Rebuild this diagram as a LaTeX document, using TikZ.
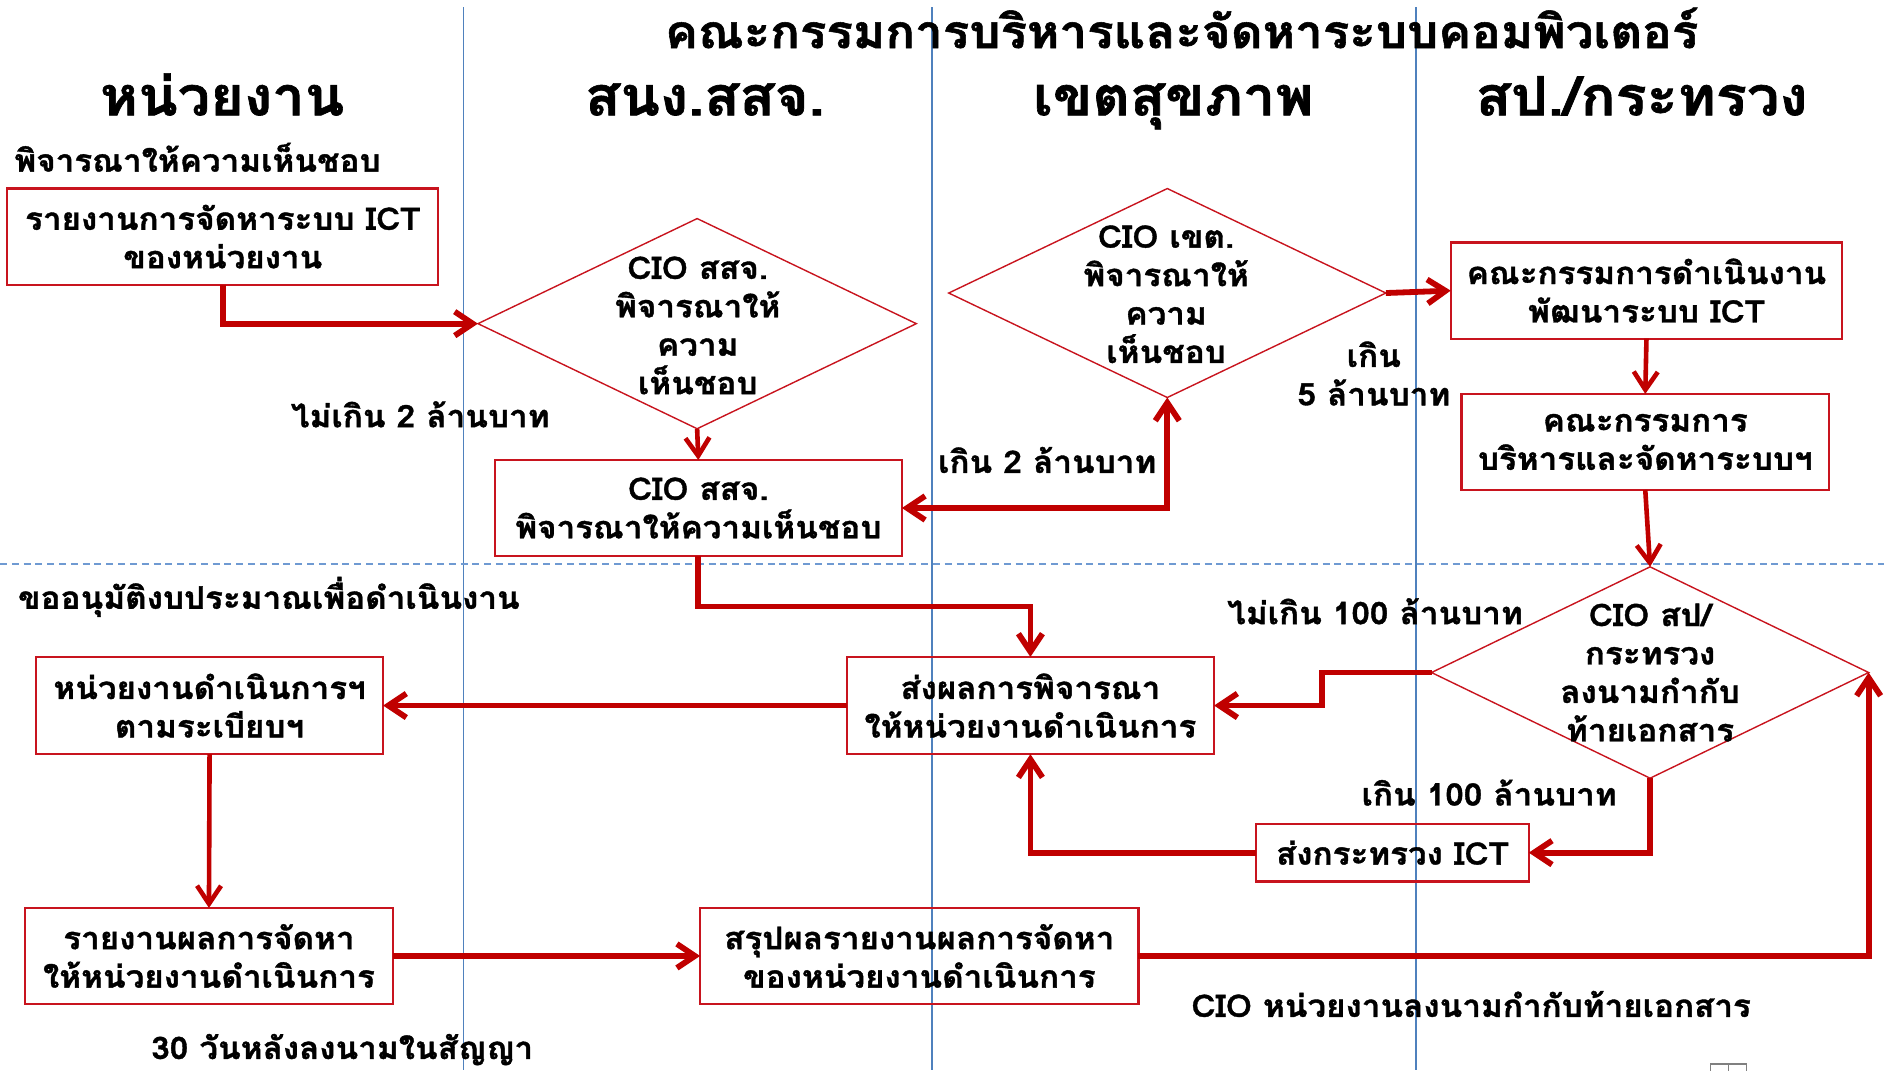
\documentclass[tikz,border=0pt]{standalone}
\usepackage{fontspec}
\newfontfamily\thai[Script=Thai,FakeStretch=1.07,BoldFeatures={FakeBold=1.2}]{Loma}
\usetikzlibrary{arrows.meta,shapes.geometric}
\definecolor{dred}{HTML}{C00000}
\definecolor{bred}{HTML}{C8141E}
\definecolor{lane}{HTML}{4F81BD}
\definecolor{dash}{HTML}{6F9AD2}
\begin{document}
\begin{tikzpicture}[x=0.6pt,y=-0.6pt,
  every node/.style={inner sep=0pt,outer sep=0pt},
  txt/.style={font=\thai\bfseries\fontsize{15.5}{19.2}\selectfont,align=center},
  head/.style={font=\thai\bfseries\fontsize{27}{30}\selectfont,anchor=base},
  ttl/.style={font=\thai\bfseries\fontsize{23}{26}\selectfont,anchor=base},
  boxn/.style 2 args={draw=bred,line width=1.1pt,rectangle,minimum width={#1*0.6pt},minimum height={#2*0.6pt}},
  dia/.style 2 args={draw=bred,line width=0.7pt,diamond,minimum width={#1*0.6pt},minimum height={#2*0.6pt}},
  thk/.style={draw=dred,line width=2.9pt,-{Straight Barb[length=9pt,width=12pt]}},
  med/.style={draw=dred,line width=2.3pt,-{Straight Barb[length=9pt,width=12pt]}},
  lanel/.style={draw=lane,line width=0.7pt},
  sep/.style={draw=dash,line width=1pt,dash pattern=on 3.5pt off 2.4pt}
]
\useasboundingbox (0,0) rectangle (1568.8,891);
% lanes
\coordinate (l1t) at (386,6); \coordinate (l1b) at (386,891);
\coordinate (l2t) at (776,6); \coordinate (l2b) at (776,891);
\coordinate (l3t) at (1179,6); \coordinate (l3b) at (1179,891);
\coordinate (sl) at (0,470); \coordinate (sr) at (1568.8,470);
\draw[lanel] (l1t) -- (l1b);
\draw[lanel] (l2t) -- (l2b);
\draw[lanel] (l3t) -- (l3b);
\draw[sep] (sl) -- (sr);
% headings
\node[ttl] (title) at (984,40) {คณะกรรมการบริหารและจัดหาระบบคอมพิวเตอร์};
\node[head] (h1) at (185,96) {หน่วยงาน};
\node[head] (h2) at (587,96) {สนง.สสจ.};
\node[head] (h3) at (977,96) {เขตสุขภาพ};
\node[head] (h4) at (1367,96) {สป./กระทรวง};
% boxes
\node[boxn={359}{80},txt] (b1) at (185.5,197) {รายงานการจัดหาระบบ ICT\\ของหน่วยงาน};
\node[boxn={339}{80},txt] (b2) at (581.5,423) {CIO สสจ.\\พิจารณาให้ความเห็นชอบ};
\node[boxn={326}{80},txt] (b3) at (1371,242) {คณะกรรมการดำเนินงาน\\พัฒนาระบบ ICT};
\node[boxn={306}{80},txt] (b4) at (1370,368) {คณะกรรมการ\\บริหารและจัดหาระบบฯ};
\node[boxn={306}{81},txt] (b5) at (858,587.5) {ส่งผลการพิจารณา\\ให้หน่วยงานดำเนินการ};
\node[boxn={289}{81},txt] (b6) at (174.5,587.5) {หน่วยงานดำเนินการฯ\\ตามระเบียบฯ};
\node[boxn={306}{80},txt] (b7) at (174,796) {รายงานผลการจัดหา\\ให้หน่วยงานดำเนินการ};
\node[boxn={365}{80},txt] (b8) at (765.5,796) {สรุปผลรายงานผลการจัดหา\\ของหน่วยงานดำเนินการ};
\node[boxn={227}{48},txt] (b9) at (1159.5,710) {ส่งกระทรวง ICT};
% diamonds
\node[dia={365}{175}] (d1) at (580.5,269.5) {};
\node[txt] (d1t) at (581,271) {CIO สสจ.\\พิจารณาให้\\ความ\\เห็นชอบ};
\node[dia={364}{174}] (d2) at (972,244) {};
\node[txt] (d2t) at (971,245) {CIO เขต.\\พิจารณาให้\\ความ\\เห็นชอบ};
\node[dia={364}{176}] (d3) at (1374,560) {};
\node[txt] (d3t) at (1374,560) {CIO สป/\\กระทรวง\\ลงนามกำกับ\\ท้ายเอกสาร};
% labels
\node[txt,anchor=west] (lab1) at (12,131) {พิจารณาให้ความเห็นชอบ};
\node[txt] (lab2) at (350,345) {ไม่เกิน 2 ล้านบาท};
\node[txt] (lab3) at (872,383) {เกิน 2 ล้านบาท};
\node[txt] (lab4) at (1144,311) {เกิน\\5 ล้านบาท};
\node[txt] (lab5) at (1145,509) {ไม่เกิน 100 ล้านบาท};
\node[txt,anchor=west] (lab6) at (15,497) {ขออนุมัติงบประมาณเพื่อดำเนินงาน};
\node[txt] (lab7) at (1240,660) {เกิน 100 ล้านบาท};
\node[txt] (lab8) at (1225,836) {CIO หน่วยงานลงนามกำกับท้ายเอกสาร};
\node[txt] (lab9) at (285,874) {30 วันหลังลงนามในสัญญา};
% small icon
\node[draw=gray,line width=0.6pt,minimum width={30*0.6pt},minimum height={8*0.6pt},anchor=north west] (icon) at (1424,886) {};
\draw[gray,line width=0.6pt] (icon.north) -- (icon.south);
% connectors
\draw[thk] (b1.south) |- (d1.west);
\draw[med] (d1.south) -- (b2.north);
\draw[draw=dred,line width=2.9pt,{Straight Barb[length=9pt,width=12pt]}-{Straight Barb[length=9pt,width=12pt]}] (b2.east) -| (d2.south);
\draw[thk] (d2.east) -- (b3.west);
\draw[med] (b3.south) -- (b4.north);
\draw[med] (b4.south) -- (d3.north);
\draw[thk] (d3.west) -- ++(-91,0) |- (b5.east);
\draw[thk] (b2.south) -- ++(0,42) -| (b5.north);
\draw[thk] (b5.west) -- (b6.east);
\draw[med] (b6.south) -- (b7.north);
\draw[thk] (b7.east) -- (b8.west);
\draw[thk] (b8.east) -| (d3.east);
\draw[thk] (d3.south) |- (b9.east);
\draw[thk] (b9.west) -| (b5.south);
\end{tikzpicture}
\end{document}
